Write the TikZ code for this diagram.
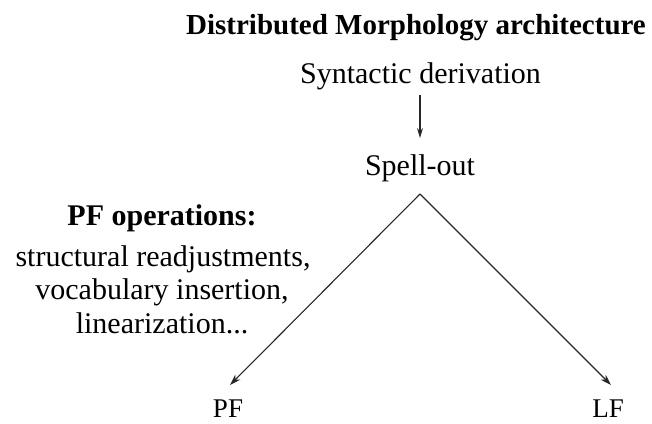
\documentclass[tikz,border=0pt]{standalone}
\usepackage{fontspec}
\setmainfont{Liberation Serif}
\usetikzlibrary{arrows.meta}
\begin{document}
\begin{tikzpicture}[x=1pt,y=-1pt,
  txt/.style={anchor=base,inner sep=0pt,font=\fontsize{30}{33}\selectfont},
  small/.style={anchor=base,inner sep=0pt,text depth=0pt,font=\fontsize{27}{30}\selectfont},
  arr/.style={draw=black!85,line width=1.1pt,-{Stealth[length=11pt,width=7pt]}}]
\useasboundingbox (0,0) rectangle (652,423);
\node[anchor=base,inner sep=0pt,font=\fontsize{29}{32}\selectfont\bfseries] (title) at (416,34) {Distributed Morphology architecture};
\node[txt] (syn) at (420.5,83) {Syntactic derivation};
\node[txt] (spell) at (420,175) {Spell-out};
\coordinate (apex) at (420,194);
\node[txt,font=\fontsize{30}{33}\selectfont\bfseries] (ops) at (162,225) {PF operations:};
\node[txt] (ops1) at (163,266) {structural readjustments,};
\node[txt] (ops2) at (162,299) {vocabulary insertion,};
\node[txt] (ops3) at (162,333) {linearization...};
\node[small] (pf) at (228,417) {PF};
\node[small] (lf) at (608,417) {LF};
\coordinate (pftip) at (230,385);
\coordinate (lftip) at (611,385);
\coordinate (a0) at (420,95);
\coordinate (a1) at (420,138);
\draw[arr,-{Stealth[length=10pt,width=6pt]}] (a0) -- (a1);
\draw[arr] (apex) -- (pftip);
\draw[arr] (apex) -- (lftip);
\end{tikzpicture}
\end{document}
